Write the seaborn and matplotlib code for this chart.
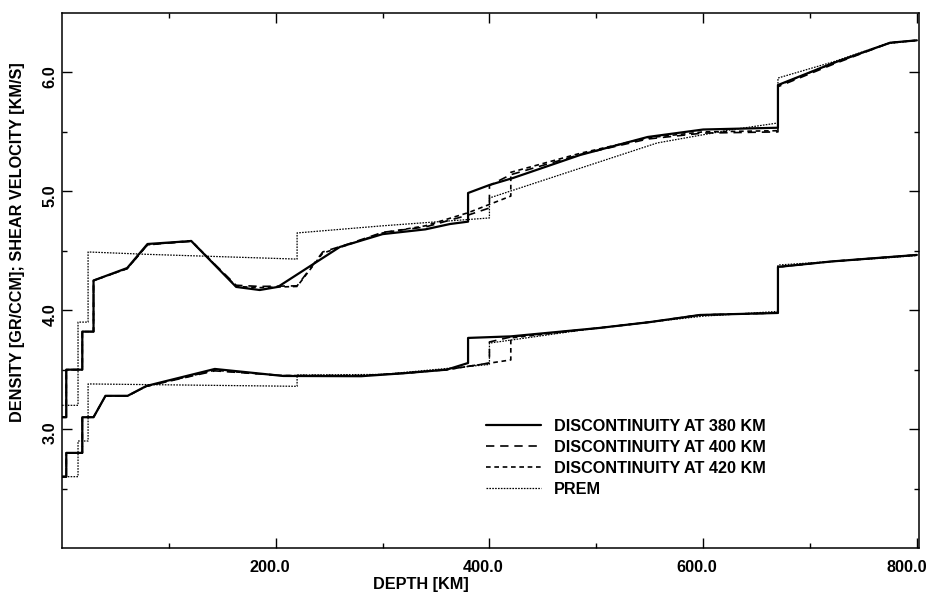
import matplotlib
matplotlib.use("Agg")
import matplotlib.pyplot as plt
import matplotlib.transforms as mtransforms
from matplotlib.ticker import FixedLocator, FixedFormatter
import seaborn as sns
import pandas as pd

# ---------------- data ----------------
# Shear velocity [km/s]
vs380_depth = [0, 4, 4, 19, 19, 29.5, 29.5, 61, 80, 121, 163, 185, 202, 260, 300, 340, 363, 380,
               380, 400, 422, 485, 548, 600, 670, 670, 722, 775, 800]
vs380_val = [3.10, 3.10, 3.50, 3.50, 3.82, 3.82, 4.25, 4.355, 4.557, 4.582, 4.196, 4.17, 4.196, 4.532, 4.64, 4.68, 4.725, 4.745,
             4.986, 5.053, 5.112, 5.306, 5.457, 5.52, 5.535, 5.894, 6.08, 6.25, 6.27]

vs400_depth = [0, 4, 4, 19, 19, 29.5, 29.5, 61, 80, 121, 163, 185, 220, 244, 269, 300, 340, 380, 400,
               400, 420, 485, 548, 600, 670, 670, 722, 775, 800]
vs400_val = [3.10, 3.10, 3.50, 3.50, 3.82, 3.82, 4.25, 4.35, 4.55, 4.58, 4.21, 4.20, 4.205, 4.49, 4.56, 4.655, 4.70, 4.80, 4.86,
             5.05, 5.14, 5.31, 5.44, 5.49, 5.50, 5.88, 6.07, 6.25, 6.27]

vs420_depth = [0, 4, 4, 19, 19, 29.5, 29.5, 61, 80, 121, 163, 185, 220, 244, 269, 300, 340, 380, 420,
               420, 485, 548, 600, 670, 670, 722, 775, 800]
vs420_val = [3.10, 3.10, 3.50, 3.50, 3.82, 3.82, 4.25, 4.35, 4.55, 4.585, 4.20, 4.19, 4.20, 4.48, 4.555, 4.65, 4.71, 4.82, 4.96,
             5.16, 5.32, 5.45, 5.50, 5.51, 5.89, 6.08, 6.25, 6.27]

vsprem_depth = [0, 15, 15, 24.4, 24.4, 80, 150, 220, 220, 300, 400, 400, 557, 625, 670, 670, 722, 771, 800]
vsprem_val = [3.20, 3.20, 3.90, 3.90, 4.49, 4.47, 4.45, 4.43, 4.65, 4.71, 4.776, 4.944, 5.407, 5.516, 5.575, 5.953, 6.09, 6.24, 6.27]

# Density [g/ccm]
rho380_depth = [0, 4, 4, 19, 19, 29.5, 40.7, 61.4, 79, 143, 207, 280, 320, 360, 380,
                380, 420, 503, 550, 597, 670, 670, 720, 800]
rho380_val = [2.60, 2.60, 2.80, 2.80, 3.10, 3.10, 3.28, 3.28, 3.363, 3.506, 3.447, 3.445, 3.47, 3.50, 3.556,
              3.767, 3.78, 3.851, 3.90, 3.96, 3.977, 4.364, 4.41, 4.465]

rho400_depth = [0, 4, 4, 19, 19, 29.5, 40.7, 61.4, 79, 143, 207, 280, 320, 360, 400,
                400, 420, 503, 550, 597, 670, 670, 720, 800]
rho400_val = [2.60, 2.60, 2.80, 2.80, 3.10, 3.10, 3.28, 3.28, 3.36, 3.49, 3.45, 3.45, 3.47, 3.50, 3.556,
              3.733, 3.775, 3.851, 3.90, 3.96, 3.977, 4.364, 4.41, 4.465]

rho420_depth = [0, 4, 4, 19, 19, 29.5, 40.7, 61.4, 79, 143, 207, 280, 320, 360, 420,
                420, 503, 550, 597, 670, 670, 720, 800]
rho420_val = [2.60, 2.60, 2.80, 2.80, 3.10, 3.10, 3.28, 3.28, 3.36, 3.495, 3.45, 3.45, 3.47, 3.50, 3.582,
              3.767, 3.851, 3.90, 3.96, 3.977, 4.364, 4.41, 4.465]

rhoprem_depth = [0, 15, 15, 24.4, 24.4, 220, 220, 300, 400, 400, 500, 600, 670, 670, 771, 800]
rhoprem_val = [2.60, 2.60, 2.90, 2.90, 3.38, 3.36, 3.455, 3.46, 3.5435, 3.7235, 3.85, 3.95, 3.99, 4.38, 4.44, 4.46]

legend_labels = ["DISCONTINUITY AT 380 KM", "DISCONTINUITY AT 400 KM",
                 "DISCONTINUITY AT 420 KM", "PREM"]
x_major = [200, 400, 600, 800]
x_major_labels = ["200.0", "400.0", "600.0", "800.0"]
x_minor = [100, 300, 500, 700]
y_major = [3.0, 4.0, 5.0, 6.0]
y_major_labels = ["3.0", "4.0", "5.0", "6.0"]
y_minor = [2.5, 3.5, 4.5, 5.5]

# ---------------- styling ----------------
sns.set_style("ticks")
plt.rcParams["font.family"] = ["Liberation Sans", "DejaVu Sans"]
plt.rcParams["font.weight"] = "bold"
for k in ["text.color", "axes.labelcolor", "xtick.color", "ytick.color", "axes.edgecolor"]:
    plt.rcParams[k] = "black"
FS = 11.7

fig = plt.figure(figsize=(9.34, 5.99), dpi=100)
W, H = 934, 599
L, R, T, B = 62, 919, 13, 548
ax = fig.add_axes([L / W, (H - B) / H, (R - L) / W, (B - T) / H])

styles = [
    dict(linestyle="-", linewidth=1.6),
    dict(linestyle=(0, (5, 3.5)), linewidth=1.2),
    dict(linestyle=(0, (2.8, 2.2)), linewidth=1.2),
    dict(linestyle=(0, (1.3, 1.0)), linewidth=0.9),
]
series = [
    (vs380_depth, vs380_val, rho380_depth, rho380_val),
    (vs400_depth, vs400_val, rho400_depth, rho400_val),
    (vs420_depth, vs420_val, rho420_depth, rho420_val),
    (vsprem_depth, vsprem_val, rhoprem_depth, rhoprem_val),
]
handles = []
for (dv, vv, dr, vr), st in zip(series, styles):
    df_v = pd.DataFrame({"depth": dv, "val": vv})
    df_r = pd.DataFrame({"depth": dr, "val": vr})
    sns.lineplot(data=df_v, x="depth", y="val", ax=ax, color="black",
                 estimator=None, sort=False, **st)
    handles.append(ax.get_lines()[-1])
    sns.lineplot(data=df_r, x="depth", y="val", ax=ax, color="black",
                 estimator=None, sort=False, **st)

ax.set_xlim(0, 802)
ax.set_ylim(2.0, 6.5)

ax.xaxis.set_major_locator(FixedLocator(x_major))
ax.xaxis.set_major_formatter(FixedFormatter(x_major_labels))
ax.xaxis.set_minor_locator(FixedLocator(x_minor))
ax.yaxis.set_major_locator(FixedLocator(y_major))
ax.yaxis.set_major_formatter(FixedFormatter(y_major_labels))
ax.yaxis.set_minor_locator(FixedLocator(y_minor))

ax.tick_params(which="both", direction="in", top=True, right=True, width=1.0,
               color="black", labelcolor="black")
ax.tick_params(which="major", length=7.5)
ax.tick_params(which="minor", length=3.5)
ax.tick_params(axis="x", which="major", pad=9, labelsize=FS)
ax.tick_params(axis="y", which="major", pad=3, labelsize=FS, labelrotation=90)

for sp in ax.spines.values():
    sp.set_linewidth(1.1)
    sp.set_color("black")

# small offsets of tick labels as in the reference
x_offsets = [-6, -6, -6, -10]
for tick, off in zip(ax.xaxis.get_major_ticks(), x_offsets):
    lab = tick.label1
    lab.set_fontweight("bold")
    lab.set_transform(lab.get_transform() +
                      mtransforms.ScaledTranslation(off / 100, 0, fig.dpi_scale_trans))
for tick in ax.yaxis.get_major_ticks():
    lab = tick.label1
    lab.set_fontweight("bold")
    lab.set_va("center")
    lab.set_transform(lab.get_transform() +
                      mtransforms.ScaledTranslation(0, -4 / 100, fig.dpi_scale_trans))

ax.set_xlabel("DEPTH [KM]", fontsize=FS, fontweight="bold", color="black")
ax.set_ylabel("DENSITY [GR/CCM]; SHEAR VELOCITY [KM/S]", fontsize=FS, fontweight="bold", color="black")
ax.xaxis.set_label_coords(0.419, -0.054)
ax.yaxis.set_label_coords(-0.043, 0.572)

leg = ax.legend(handles=handles, labels=legend_labels, loc="upper left",
                bbox_to_anchor=((486 - L) / (R - L), 1 - (419 - T) / (B - T)),
                frameon=False, handlelength=3.4, handletextpad=0.8,
                labelspacing=0.36, borderpad=0, borderaxespad=0,
                prop=dict(size=FS, weight="bold"))
for txt in leg.get_texts():
    txt.set_color("black")

fig.savefig("out.png", dpi=100)
